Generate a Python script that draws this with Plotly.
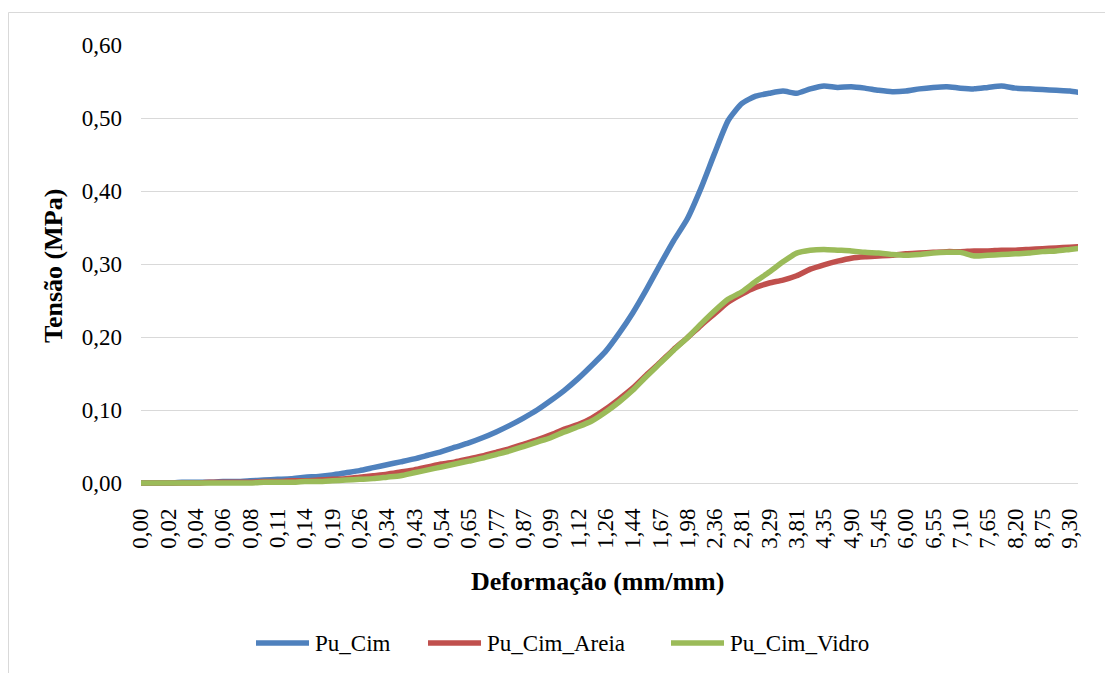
import numpy as np
import plotly.graph_objects as go

# Category labels of the strain axis (mm/mm), one label every two samples
strain_labels = ["0,00", "0,02", "0,04", "0,06", "0,08", "0,11", "0,14", "0,19", "0,26",
                 "0,34", "0,43", "0,54", "0,65", "0,77", "0,87", "0,99", "1,12", "1,26",
                 "1,44", "1,67", "1,98", "2,36", "2,81", "3,29", "3,81", "4,35", "4,90",
                 "5,45", "6,00", "6,55", "7,10", "7,65", "8,20", "8,75", "9,30"]

# Stress readings (MPa), two samples per labelled category
pu_cim = [0.000, 0.000, 0.000, 0.001, 0.001, 0.001, 0.002, 0.002, 0.003, 0.004,
          0.005, 0.006, 0.008, 0.009, 0.011, 0.014, 0.017, 0.021, 0.025, 0.029,
          0.033, 0.038, 0.043, 0.049, 0.055, 0.062, 0.070, 0.079, 0.089, 0.100,
          0.113, 0.127, 0.143, 0.161, 0.180, 0.205, 0.233, 0.265, 0.299, 0.332,
          0.362, 0.404, 0.452, 0.497, 0.520, 0.530, 0.534, 0.537, 0.534, 0.540,
          0.544, 0.542, 0.543, 0.541, 0.538, 0.536, 0.537, 0.540, 0.542, 0.543,
          0.541, 0.540, 0.542, 0.544, 0.541, 0.540, 0.539, 0.538, 0.537, 0.534]

pu_cim_areia = [0.000, 0.000, 0.000, 0.000, 0.000, 0.001, 0.001, 0.001, 0.001, 0.002,
                0.002, 0.003, 0.003, 0.004, 0.005, 0.006, 0.008, 0.010, 0.012, 0.015,
                0.018, 0.022, 0.026, 0.029, 0.033, 0.037, 0.042, 0.047, 0.053, 0.059,
                0.066, 0.074, 0.080, 0.089, 0.101, 0.115, 0.130, 0.148, 0.165, 0.183,
                0.199, 0.216, 0.232, 0.248, 0.259, 0.268, 0.274, 0.278, 0.284, 0.293,
                0.299, 0.304, 0.308, 0.310, 0.311, 0.312, 0.314, 0.315, 0.316, 0.317,
                0.317, 0.318, 0.318, 0.319, 0.319, 0.320, 0.321, 0.322, 0.323, 0.324]

pu_cim_vidro = [0.000, 0.000, 0.000, 0.000, 0.000, 0.000, 0.000, 0.000, 0.000, 0.001,
                0.001, 0.001, 0.002, 0.002, 0.003, 0.004, 0.005, 0.006, 0.008, 0.010,
                0.014, 0.018, 0.022, 0.026, 0.030, 0.034, 0.039, 0.044, 0.050, 0.056,
                0.062, 0.070, 0.077, 0.085, 0.097, 0.111, 0.127, 0.146, 0.164, 0.182,
                0.199, 0.218, 0.236, 0.252, 0.262, 0.276, 0.289, 0.303, 0.315, 0.319,
                0.320, 0.319, 0.318, 0.316, 0.315, 0.313, 0.312, 0.313, 0.315, 0.316,
                0.316, 0.311, 0.312, 0.313, 0.314, 0.315, 0.317, 0.318, 0.320, 0.322]

series_names = ["Pu_Cim", "Pu_Cim_Areia", "Pu_Cim_Vidro"]
series_colors = ["#4F81BD", "#C0504D", "#9BBB59"]
series_values = [pu_cim, pu_cim_areia, pu_cim_vidro]

# sample position along the category axis (0 = first label)
samples = np.arange(len(pu_cim)) * 0.5

W, H = 1105, 673
L, R, T, B = 141, 27, 45, 184
PW, PH = W - L - R, H - T - B
Y_ZERO_PX = 483  # pixel row of the 0,00 gridline


def paper_x(px):
    return (px - L) / PW


def paper_y(py):
    return (T + PH - py) / PH


y_per_px = 0.6 / (Y_ZERO_PX - T)
y_bottom = -(T + PH - Y_ZERO_PX) * y_per_px

FONT = "Times New Roman, Liberation Serif, DejaVu Serif, Noto Serif, serif"
LINE_W = 5.5

fig = go.Figure()
for name, color, vals in zip(series_names, series_colors, series_values):
    fig.add_trace(go.Scatter(x=samples, y=vals, mode="lines", name=name,
                             line=dict(color=color, width=LINE_W, shape="spline",
                                       smoothing=0.6),
                             showlegend=False))

fig.update_layout(
    width=W, height=H,
    margin=dict(l=L, r=R, t=T, b=B),
    paper_bgcolor="white", plot_bgcolor="white",
    separators=",.",
    font=dict(family=FONT, color="#000000", size=23),
    xaxis=dict(range=[0, 34.3], tickmode="array",
               tickvals=list(range(len(strain_labels))), ticktext=strain_labels,
               tickangle=-90, showgrid=False, zeroline=False, showline=False,
               ticks="", ticklabelstandoff=14,
               tickfont=dict(family=FONT, size=23, color="#000000")),
    yaxis=dict(range=[y_bottom, 0.6001], tickmode="array",
               tickvals=[0, 0.1, 0.2, 0.3, 0.4, 0.5, 0.6],
               tickformat=".2f", showgrid=True, gridcolor="#D9D9D9", gridwidth=1,
               zeroline=False, showline=False, ticks="", ticklabelstandoff=18,
               tickfont=dict(family=FONT, size=23, color="#000000")),
)

# chart frame
fig.add_shape(type="rect", xref="paper", yref="paper",
              x0=paper_x(8.5), x1=paper_x(1120), y0=paper_y(690), y1=paper_y(12.5),
              line=dict(color="#D9D9D9", width=1), fillcolor="rgba(0,0,0,0)",
              layer="below")

# axis titles
fig.add_annotation(text="<b>Deformação (mm/mm)</b>", xref="paper", yref="paper",
                   x=paper_x(597), y=paper_y(581), showarrow=False,
                   xanchor="center", yanchor="middle",
                   font=dict(family=FONT, size=26, color="#000000"))
fig.add_annotation(text="<b>Tensão (MPa)</b>", xref="paper", yref="paper",
                   x=paper_x(53), y=paper_y(266), showarrow=False, textangle=-90,
                   xanchor="center", yanchor="middle",
                   font=dict(family=FONT, size=26, color="#000000"))

# legend along the bottom
legend_left = [256, 428, 671]
legend_row = 643
for name, color, x0 in zip(series_names, series_colors, legend_left):
    fig.add_shape(type="line", xref="paper", yref="paper",
                  x0=paper_x(x0), x1=paper_x(x0 + 53),
                  y0=paper_y(legend_row), y1=paper_y(legend_row),
                  line=dict(color=color, width=LINE_W))
    fig.add_annotation(text=name, xref="paper", yref="paper",
                       x=paper_x(x0 + 57), y=paper_y(legend_row), showarrow=False,
                       xanchor="left", yanchor="middle",
                       font=dict(family=FONT, size=23, color="#000000"))

fig.write_html("out.html")
